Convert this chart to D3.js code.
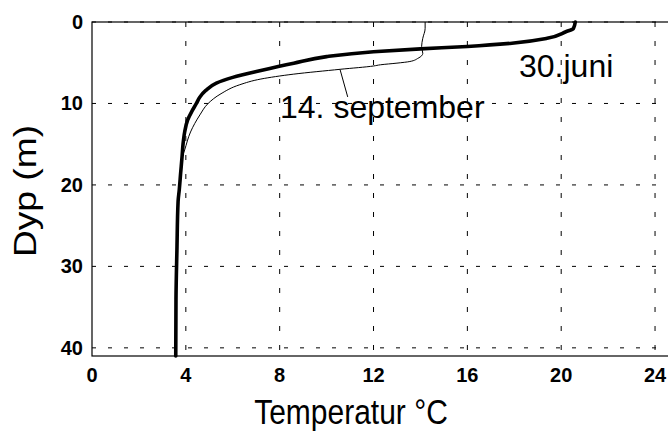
<!DOCTYPE html>
<html>
<head>
<meta charset="utf-8">
<script src="https://cdn.jsdelivr.net/npm/d3@7"></script>
<style>
  body { margin: 0; background: #fff; }
  text { font-family: "Liberation Sans", Arial, Helvetica, sans-serif; }
</style>
</head>
<body>
<div id="container"></div>
<script>
// temperature profiles, [temperature degC, depth m]
const juneProfile = [
  [20.6, 0], [20.52, 0.8], [20.2, 1.2], [19.4, 2.0], [17.9, 2.6], [16.0, 3.0],
  [14.0, 3.3], [12.0, 3.65], [10.0, 4.25], [8.6, 5.05], [7.2, 5.95], [6.0, 6.8],
  [5.3, 7.5], [4.85, 8.4], [4.6, 9.2], [4.45, 10.0], [4.25, 11.0], [4.08, 12.0],
  [3.95, 13.5], [3.88, 15.0], [3.84, 16.5], [3.78, 18.5], [3.72, 20.6], [3.67, 22],
  [3.62, 28], [3.58, 34], [3.57, 41]
];
const septProfile = [
  [14.2, 0], [14.2, 0.8], [14.1, 2.0], [14.05, 3.0], [14.1, 3.85], [13.9, 4.45],
  [13.55, 4.85], [13.0, 5.05], [12.3, 5.25], [12.0, 5.4], [10.6, 5.8], [8.6, 6.4],
  [7.2, 7.0], [6.3, 7.7], [5.5, 8.8], [4.95, 10.0], [4.6, 11.4], [4.2, 13.5],
  [3.95, 15.7], [3.86, 16.5], [3.78, 18.5], [3.72, 20.6], [3.67, 22], [3.62, 28],
  [3.58, 34], [3.57, 41]
];
const tempTicks = [0, 4, 8, 12, 16, 20, 24];
const depthTicks = [0, 10, 20, 30, 40];

const width = 668;
const height = 432;
const svg = d3.create("svg")
  .attr("width", width)
  .attr("height", height);
container.append(svg.node());

// plot runs past the right edge of the picture
const x = d3.scaleLinear().domain([0, 25]).range([92, 678.5]);
const y = d3.scaleLinear().domain([0, 41]).range([22, 356]);

// dotted grid
svg.append("g").selectAll("line")
  .data(depthTicks)
  .join("line")
  .attr("x1", x(0)).attr("x2", x(25))
  .attr("y1", d => y(d)).attr("y2", d => y(d))
  .attr("stroke", "#000").attr("stroke-width", 1)
  .attr("stroke-dasharray", "4,12");
svg.append("g").selectAll("line")
  .data(tempTicks.filter(d => d > 0))
  .join("line")
  .attr("x1", d => x(d)).attr("x2", d => x(d))
  .attr("y1", y(0)).attr("y2", y(41))
  .attr("stroke", "#000").attr("stroke-width", 1)
  .attr("stroke-dasharray", "5,14");

// frame
svg.append("rect")
  .attr("x", x(0)).attr("y", y(0))
  .attr("width", x(25) - x(0)).attr("height", y(41) - y(0))
  .attr("fill", "none").attr("stroke", "#000").attr("stroke-width", 1.2);

// tick labels
svg.append("g").selectAll("text")
  .data(depthTicks)
  .join("text")
  .attr("x", 83).attr("y", d => y(d) + 7)
  .attr("text-anchor", "end")
  .attr("font-size", 20).attr("font-weight", "bold")
  .text(d => d);
svg.append("g").selectAll("text")
  .data(tempTicks)
  .join("text")
  .attr("x", d => x(d)).attr("y", 382)
  .attr("text-anchor", "middle")
  .attr("font-size", 20).attr("font-weight", "bold")
  .text(d => d);

// axis titles
svg.append("text")
  .attr("transform", "translate(351,424) scale(1,1.15)")
  .attr("text-anchor", "middle")
  .attr("font-size", 30)
  .text("Temperatur °C");
svg.append("text")
  .attr("transform", "translate(36,191) scale(1,1.2) rotate(-90)")
  .attr("text-anchor", "middle")
  .attr("font-size", 31)
  .text("Dyp (m)");

// profiles
const line = d3.line()
  .x(d => x(d[0]))
  .y(d => y(d[1]))
  .curve(d3.curveMonotoneY);

svg.append("path")
  .datum(septProfile)
  .attr("d", line)
  .attr("fill", "none").attr("stroke", "#000").attr("stroke-width", 1);
svg.append("path")
  .datum(juneProfile)
  .attr("d", line)
  .attr("fill", "none").attr("stroke", "#000").attr("stroke-width", 3.6)
  .attr("stroke-linecap", "round");

// labels
svg.append("line")
  .attr("x1", x(10.57)).attr("y1", y(5.8))
  .attr("x2", x(10.9)).attr("y2", y(9.2))
  .attr("stroke", "#000").attr("stroke-width", 1);
svg.append("text")
  .attr("x", 280).attr("y", 118)
  .attr("font-size", 32)
  .text("14. september");
svg.append("text")
  .attr("x", 519).attr("y", 77)
  .attr("font-size", 32)
  .text("30.juni");
</script>
</body>
</html>
